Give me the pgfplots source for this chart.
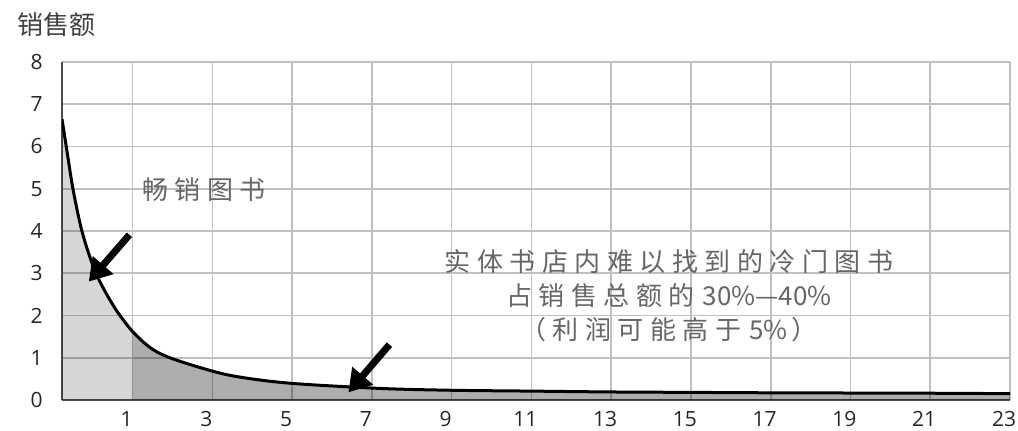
\documentclass[border=0pt]{standalone}
\usepackage{fontspec}
\setmainfont{Open Sans}
\newfontfamily\cjk{Noto Sans CJK SC}
\newfontfamily\cjkls[LetterSpace=25]{Noto Sans CJK SC}
\usepackage{pgfplots}
\pgfplotsset{compat=1.18}
\usetikzlibrary{arrows.meta}
\begin{document}
\begin{tikzpicture}
\useasboundingbox (-31pt,-15.5pt) rectangle (478pt,200pt);
\begin{axis}[
  scale only axis, width=474pt, height=169pt,
  xmin=-0.77, xmax=23, ymin=0, ymax=8,
  xtick={1,3,...,23}, ytick={0,1,...,8},
  grid=major, grid style={line width=0.8pt, color=black!25},
  axis x line=bottom, axis y line=left,
  axis line style={-, line width=0.9pt, black!70},
  tick style={draw=none},
  ticklabel style={font=\fontsize{10.5}{12}\selectfont, text=black!85},
  xticklabel style={xshift=-3pt},
  yticklabel style={xshift=-4pt},
  /pgf/number format/assume math mode=true,
]
\addplot[draw=none, fill=black, fill opacity=0.16, smooth] coordinates {
 (-0.77,6.65) (-0.65,5.92) (-0.49,4.97) (-0.26,3.96) (0.08,3.0) (0.54,2.2) (1,1.62)
} \closedcycle;
\addplot[draw=none, fill=black, fill opacity=0.32, smooth] coordinates {
 (1,1.62) (1.5,1.2) (2.08,0.95) (3.26,0.62) (4.3,0.46) (5.33,0.37) (7.3,0.27) (9,0.23) (11,0.21) (13,0.19) (15,0.18) (17,0.17) (19,0.165) (21,0.16) (23,0.15)
} \closedcycle;
\addplot[black, line width=1.5pt, smooth] coordinates {
 (-0.77,6.65) (-0.65,5.92) (-0.49,4.97) (-0.26,3.96) (0.08,3.0) (0.54,2.2) (1,1.62) (1.5,1.2) (2.08,0.95) (3.26,0.62) (4.3,0.46) (5.33,0.37) (7.3,0.27) (9,0.23) (11,0.21) (13,0.19) (15,0.18) (17,0.17) (19,0.165) (21,0.16) (23,0.15)
};
\draw[line width=3.5pt, -{Triangle[length=11pt,width=13pt]}] (axis cs:0.92,3.91) -- (axis cs:-0.10,2.80);
\draw[line width=3.5pt, -{Triangle[length=11pt,width=13pt]}] (axis cs:7.44,1.31) -- (axis cs:6.41,0.18);
\node[text=black!60, font=\cjkls\fontsize{13}{15}\selectfont] at (axis cs:2.79,4.98) {畅销图书};
\node[text=black!60, align=center, font=\cjkls\fontsize{13}{17}\selectfont] at (axis cs:14.45,2.46)
 {实体书店内难以找到的冷门图书\\占销售总额的{\cjk\hspace{0.3em}30\%—40\%}\\（利润可能高于{\cjk\hspace{0.3em}5\%\hspace{0.15em}}）};
\end{axis}
\node[anchor=west, text=black!75, font=\cjk\fontsize{13}{15}\selectfont] at (-26pt,187.5pt) {销售额};
\end{tikzpicture}
\end{document}
